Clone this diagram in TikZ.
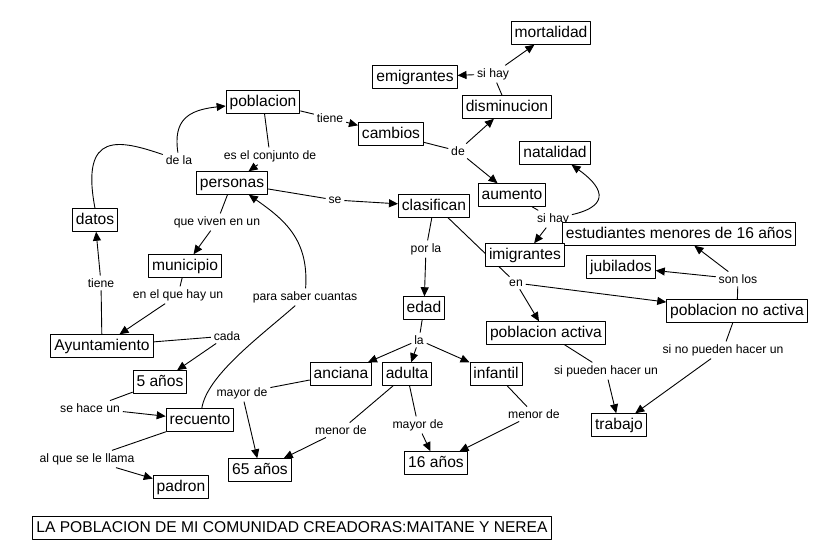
\documentclass[tikz,border=0pt]{standalone}
\usepackage{fontspec}
\setmainfont{Liberation Sans}
\usetikzlibrary{arrows.meta,backgrounds}
\begin{document}
\begin{tikzpicture}[x=1pt, y=-1pt, line join=round, >={Triangle[length=9pt,width=8pt]},
	concept/.style={draw, fill=white, line width=0.9pt, inner xsep=3.5pt, inner ysep=4pt,
		text height=11.4pt, text depth=3.2pt, font=\fontsize{15.6}{18}\selectfont},
	link/.style={inner sep=2.5pt, font=\fontsize{12.2}{14}\selectfont},
	every path/.style={line width=0.9pt}]
	\useasboundingbox (0,0) rectangle (820,560);
	% conceptos
	\node[concept] (mortalidad) at (551,33) {mortalidad};
	\node[concept] (emigrantes) at (415,77) {emigrantes};
	\node[concept] (disminucion) at (507,107) {disminucion};
	\node[concept] (poblacion) at (263,102) {poblacion};
	\node[concept] (cambios) at (391,134) {cambios};
	\node[concept] (natalidad) at (555,153) {natalidad};
	\node[concept] (personas) at (232,183) {personas};
	\node[concept] (clasifican) at (434,206) {clasifican};
	\node[concept] (aumento) at (512,195) {aumento};
	\node[link] (lSiHay2) at (553,219) {si hay};
	\node[concept] (estudiantes) at (679,234) {estudiantes menores de 16 años};
	\node[concept] (datos) at (95,220) {datos};
	\node[concept] (imigrantes) at (525,255) {imigrantes};
	\node[concept] (jubilados) at (621,267) {jubilados};
	\node[concept] (municipio) at (185,266) {municipio};
	\node[concept] (noactiva) at (737,311) {poblacion no activa};
	\node[concept] (edad) at (424,308) {edad};
	\node[concept] (activa) at (546,333) {poblacion activa};
	\node[concept] (ayto) at (102,346) {Ayuntamiento};
	\node[concept] (anciana) at (341,374) {anciana};
	\node[concept] (adulta) at (407,374) {adulta};
	\node[concept] (infantil) at (496,374) {infantil};
	\node[concept] (cinco) at (160,382) {5 años};
	\node[concept] (recuento) at (200,420) {recuento};
	\node[concept] (trabajo) at (619,425) {trabajo};
	\node[concept] (sesenta) at (260,470) {65 años};
	\node[concept] (dieciseis) at (436,463) {16 años};
	\node[concept] (padron) at (181,487) {padron};
	\node[concept] (titulo) at (292,528) {LA POBLACION DE MI COMUNIDAD CREADORAS:MAITANE Y NEREA};
	% frases de enlace
	\node[link] (lSiHay1) at (493,74) {si hay};
	\node[link] (lTiene) at (330,118) {tiene};
	\node[link] (lDe) at (458,151) {de};
	\node[link] (lConjunto) at (270,156) {es el conjunto de};
	\node[link] (lDeLa) at (179,160) {de la};
	\node[link] (lSe) at (335,200) {se};
	\node[link] (lViven) at (217,222) {que viven en un};
	\node[link] (lSonLos) at (738,279) {son los};
	\node[link] (lPorLa) at (426,249) {por la};
	\node[link] (lTieneD) at (101,283) {tiene};
	\node[link] (lEn) at (516,283) {en};
	\node[link] (lHayUn) at (178,295) {en el que hay un};
	\node[link] (lSaber) at (305,297) {para saber cuantas};
	\node[link] (lLa) at (419,340) {la};
	\node[link] (lCada) at (227,336) {cada};
	\node[link] (lNoPueden) at (723,350) {si no pueden hacer un};
	\node[link] (lPueden) at (606,371) {si pueden hacer un};
	\node[link] (lMayor1) at (242,393) {mayor de};
	\node[link] (lHaceUn) at (90,408) {se hace un};
	\node[link] (lMenor1) at (341,430) {menor de};
	\node[link] (lMayor2) at (418,425) {mayor de};
	\node[link] (lMenor2) at (534,414) {menor de};
	\node[link] (lLlama) at (87,459) {al que se le llama};
	% enlaces (detras de los conceptos)
	\begin{pgfonlayer}{background}
	\draw (disminucion) -- (lSiHay1);
	\draw[->] (lSiHay1) -- (emigrantes);
	\draw[->] (lSiHay1) -- (mortalidad);
	\draw (poblacion) -- (lTiene);
	\draw[->] (lTiene) -- (cambios);
	\draw (cambios) -- (lDe);
	\draw[->] (lDe) -- (disminucion);
	\draw[->] (lDe) -- (aumento);
	\draw (poblacion) -- (lConjunto);
	\draw[->] (lConjunto) -- (personas);
	\draw (datos.north) .. controls (80,130) and (120,140) .. (lDeLa);
	\draw[->] (lDeLa) .. controls (173,120) and (188,110) .. (poblacion);
	\draw (personas) -- (lSe);
	\draw[->] (lSe) -- (clasifican);
	\draw (personas) -- (lViven);
	\draw[->] (lViven) -- (municipio);
	\draw (municipio) -- (lHayUn);
	\draw[->] (lHayUn) -- (ayto);
	\draw (ayto) -- (lTieneD);
	\draw[->] (lTieneD) -- (datos);
	\draw (ayto) -- (lCada);
	\draw[->] (lCada) -- (cinco);
	\draw (cinco) -- (lHaceUn);
	\draw[->] (lHaceUn) -- (recuento);
	\draw (recuento) -- (lLlama);
	\draw[->] (lLlama) -- (padron);
	\draw (recuento) .. controls (207,375) and (262,335) .. (lSaber);
	\draw[->] (lSaber) .. controls (309,240) and (285,220) .. (personas);
	\draw (clasifican) -- (lPorLa);
	\draw[->] (lPorLa) -- (edad);
	\draw ([xshift=-22pt]clasifican.south east) -- (lEn);
	\draw[->] (lEn) -- (activa);
	\draw[->] (lEn) -- (noactiva);
	\draw (aumento) -- (lSiHay2);
	\draw[->] (lSiHay2) -- (imigrantes);
	\draw[->] (lSiHay2) .. controls (614,205) and (600,185) .. (natalidad);
	\draw (noactiva) -- (lSonLos);
	\draw[->] (lSonLos) -- (estudiantes);
	\draw[->] (lSonLos) -- (jubilados);
	\draw (noactiva) -- (lNoPueden);
	\draw[->] (lNoPueden) -- (trabajo);
	\draw (activa) -- (lPueden);
	\draw[->] (lPueden) -- (trabajo);
	\draw (edad) -- (lLa);
	\draw[->] (lLa) -- (anciana);
	\draw[->] (lLa) -- (adulta);
	\draw[->] (lLa) -- (infantil);
	\draw (anciana) -- (lMayor1);
	\draw[->] (lMayor1) -- (sesenta);
	\draw (adulta) -- (lMenor1);
	\draw[->] (lMenor1) -- (sesenta);
	\draw (adulta) -- (lMayor2);
	\draw[->] (lMayor2) -- (dieciseis);
	\draw (infantil) -- (lMenor2);
	\draw[->] (lMenor2) -- (dieciseis);
	\end{pgfonlayer}
\end{tikzpicture}
\end{document}
